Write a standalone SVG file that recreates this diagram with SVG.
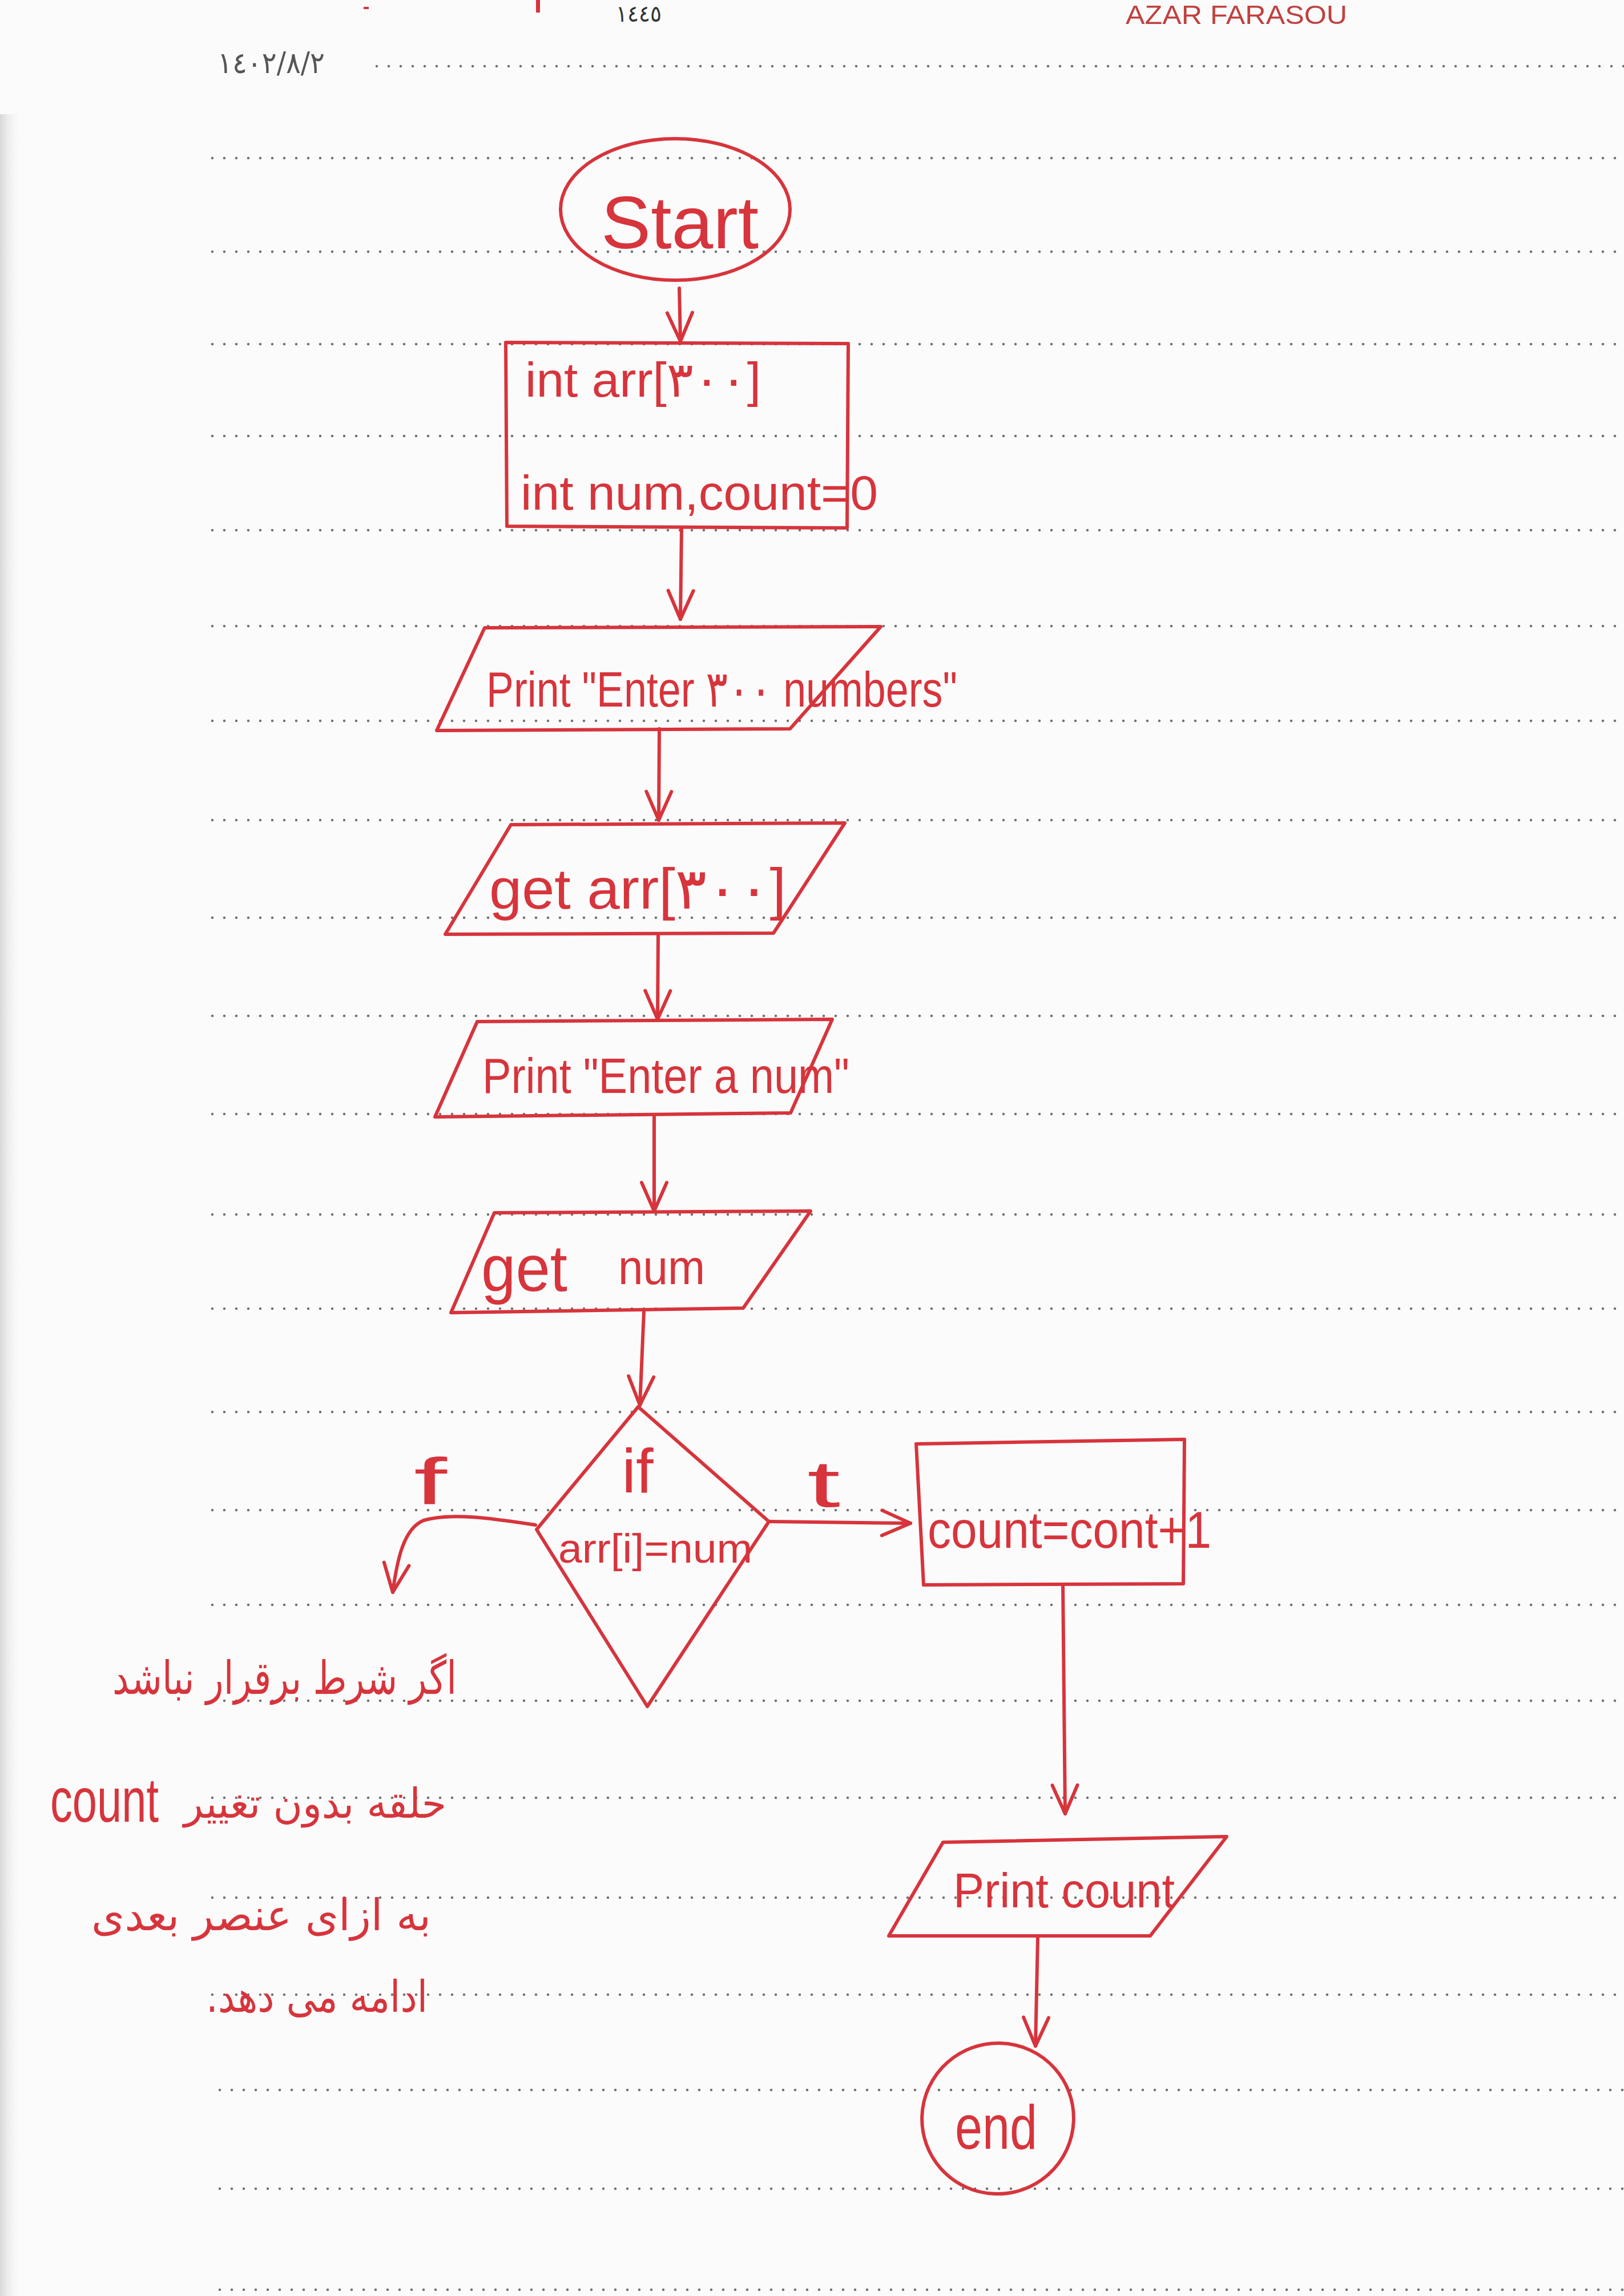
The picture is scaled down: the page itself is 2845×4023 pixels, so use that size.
<svg xmlns="http://www.w3.org/2000/svg" width="2845" height="4023" viewBox="0 0 2845 4023">
<defs>
<style>
.ink{fill:none;stroke:#d7343c;stroke-width:6;stroke-linejoin:round;stroke-linecap:round}
.t{fill:#d7343c;font-family:"Liberation Sans","DejaVu Sans",sans-serif}
.fa{fill:#d7343c;font-family:"DejaVu Sans",sans-serif}
.rule{stroke:#707070;stroke-width:4.5;stroke-dasharray:0 21;stroke-linecap:round;fill:none}
</style>
<marker id="arr" viewBox="0 0 60 60" refX="56" refY="30" markerWidth="60" markerHeight="60" markerUnits="userSpaceOnUse" orient="auto">
<path d="M6,8 L56,30 L6,52" fill="none" stroke="#d7343c" stroke-width="6" stroke-linecap="round" stroke-linejoin="round"/>
</marker>
<linearGradient id="shadow" x1="0" y1="0" x2="1" y2="0">
<stop offset="0" stop-color="#d8d8d8"/>
<stop offset="1" stop-color="#fbfbfb" stop-opacity="0"/>
</linearGradient>
</defs>
<rect x="0" y="0" width="2845" height="4023" fill="#fbfbfb"/>
<rect x="0" y="200" width="40" height="3823" fill="url(#shadow)"/>

<g id="paper">
<text x="1079" y="38" font-family="'DejaVu Sans',sans-serif" font-size="40" fill="#333" textLength="80" lengthAdjust="spacingAndGlyphs">١٤٤٥</text>
<text x="1972" y="42" font-family="'Liberation Sans',sans-serif" font-size="46" fill="#c0403f" textLength="388" lengthAdjust="spacingAndGlyphs">AZAR FARASOU</text>
<rect x="939" y="0" width="7" height="22" fill="#d7343c"/>
<rect x="637" y="12" width="9" height="4" fill="#d7343c"/>
<text x="381" y="128" font-family="'DejaVu Sans',sans-serif" font-size="52" fill="#555" textLength="188" lengthAdjust="spacingAndGlyphs">١٤٠٢/٨/٢</text>
<path class="rule" d="M660,116 H2845"/>
<path class="rule" d="M372,277 H2845 M372,441 H2845 M372,603 H2845 M372,764 H2845 M372,929 H2845 M372,1097 H2845 M372,1263 H2845 M372,1437 H2845 M372,1608 H2845 M372,1780 H2845 M372,1952 H2845 M372,2128 H2845 M372,2293 H2845 M372,2474 H2845 M372,2646 H2845 M372,2812 H2845 M372,2980 H2845 M372,3150 H2845 M372,3325 H2845 M372,3495 H2845 M385,3662 H2845 M385,3835 H2845 M385,4012 H2845"/>
</g>

<g id="connectors">
<path class="ink" d="M1190,505 L1192,598" marker-end="url(#arr)"/>
<path class="ink" d="M1194,925 L1192,1085" marker-end="url(#arr)"/>
<path class="ink" d="M1155,1277 L1154,1437" marker-end="url(#arr)"/>
<path class="ink" d="M1153,1637 L1152,1786" marker-end="url(#arr)"/>
<path class="ink" d="M1146,1957 L1146,2122" marker-end="url(#arr)"/>
<path class="ink" d="M1128,2298 L1121,2462" marker-end="url(#arr)"/>
<path class="ink" d="M1349,2666 L1595,2669" marker-end="url(#arr)"/>
<path class="ink" d="M938,2672 C860,2660 790,2650 742,2664 C708,2678 696,2730 688,2790" marker-end="url(#arr)"/>
<path class="ink" d="M1862,2777 L1866,3178" marker-end="url(#arr)"/>
<path class="ink" d="M1818,3394 L1814,3585" marker-end="url(#arr)"/>
<text class="t" x="725" y="2635" font-size="115" textLength="58" lengthAdjust="spacingAndGlyphs">f</text>
<text class="t" x="1414" y="2640" font-size="115" textLength="58" lengthAdjust="spacingAndGlyphs">t</text>
</g>

<g id="start">
<ellipse class="ink" cx="1183" cy="367" rx="201" ry="124"/>
<text class="t" x="1053" y="435" font-size="130" textLength="276" lengthAdjust="spacingAndGlyphs">Start</text>
</g>

<g id="declare">
<path class="ink" d="M886,600 L1486,602 L1484,925 L888,922 Z"/>
<text class="t" x="920" y="695" font-size="85" textLength="413" lengthAdjust="spacingAndGlyphs">int arr[۳۰۰]</text>
<text class="t" x="912" y="893" font-size="85" textLength="626" lengthAdjust="spacingAndGlyphs">int num,count=0</text>
</g>

<g id="print1">
<path class="ink" d="M849,1100 L1543,1098 L1384,1277 L765,1280 Z"/>
<text class="t" x="852" y="1238" font-size="88" textLength="825" lengthAdjust="spacingAndGlyphs">Print "Enter ۳۰۰ numbers"</text>
</g>

<g id="get1">
<path class="ink" d="M895,1445 L1480,1442 L1355,1635 L780,1637 Z"/>
<text class="t" x="857" y="1592" font-size="100" textLength="520" lengthAdjust="spacingAndGlyphs">get arr[۳۰۰]</text>
</g>

<g id="print2">
<path class="ink" d="M836,1790 L1458,1786 L1385,1950 L762,1957 Z"/>
<text class="t" x="845" y="1915" font-size="88" textLength="643" lengthAdjust="spacingAndGlyphs">Print "Enter a num"</text>
</g>

<g id="get2">
<path class="ink" d="M866,2125 L1420,2122 L1302,2292 L790,2300 Z"/>
<text class="t" x="843" y="2262" font-size="115"><tspan textLength="151" lengthAdjust="spacingAndGlyphs">get</tspan><tspan x="1083" y="2250" font-size="85" textLength="152" lengthAdjust="spacingAndGlyphs">num</tspan></text>
</g>

<g id="decision">
<path class="ink" d="M1118,2465 L1347,2666 L1134,2990 L940,2680 Z"/>
<text class="t" x="1117" y="2615" font-size="110" text-anchor="middle">if</text>
<text class="t" x="978" y="2738" font-size="72" textLength="340" lengthAdjust="spacingAndGlyphs">arr[i]=num</text>
</g>

<g id="increment">
<path class="ink" d="M1605,2530 L2075,2522 L2073,2775 L1618,2777 Z"/>
<text class="t" x="1625" y="2712" font-size="90" textLength="497" lengthAdjust="spacingAndGlyphs">count=cont+1</text>
</g>

<g id="print3">
<path class="ink" d="M1652,3228 L2149,3218 L2015,3392 L1557,3392 Z"/>
<text class="t" x="1670" y="3342" font-size="85" textLength="388" lengthAdjust="spacingAndGlyphs">Print count</text>
</g>

<g id="end">
<ellipse class="ink" cx="1748" cy="3712" rx="133" ry="132" transform="rotate(-20 1748 3712)"/>
<text class="t" x="1673" y="3765" font-size="110" textLength="144" lengthAdjust="spacingAndGlyphs">end</text>
</g>

<g id="note">
<text class="fa" x="197" y="2968" font-size="80" textLength="603" lengthAdjust="spacingAndGlyphs">اگر شرط برقرار نباشد</text>
<text class="t" x="88" y="3192" font-size="110" textLength="190" lengthAdjust="spacingAndGlyphs">count</text>
<text class="fa" x="322" y="3185" font-size="72" textLength="460" lengthAdjust="spacingAndGlyphs">حلقه بدون تغییر</text>
<text class="fa" x="160" y="3382" font-size="76" textLength="595" lengthAdjust="spacingAndGlyphs">به ازای عنصر بعدی</text>
<text class="fa" x="361" y="3525" font-size="76" textLength="388" lengthAdjust="spacingAndGlyphs">ادامه می دهد.&#x200F;</text>
</g>
</svg>
